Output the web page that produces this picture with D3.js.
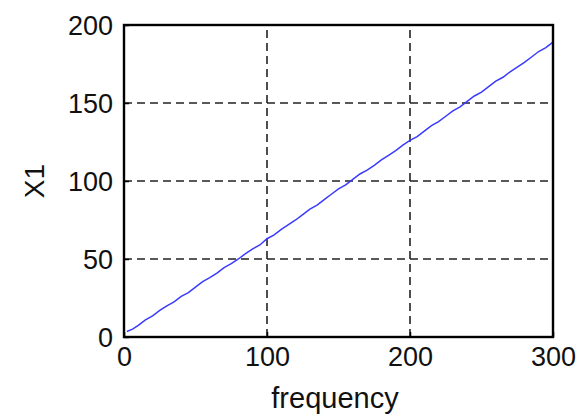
<!DOCTYPE html>
<html><head><meta charset="utf-8">
<script src="https://cdn.jsdelivr.net/npm/d3@7"></script>
<style>body{margin:0;background:#fff}svg{display:block}</style>
</head><body>
<script>
const freq = [2,6,10,15,20,25,30,35,40,45,50,55,60,65,70,75,80,85,90,95,100,105,110,115,120,125,130,135,140,145,150,155,160,165,170,175,180,185,190,195,200,205,210,215,220,225,230,235,240,245,250,255,260,265,270,275,280,285,290,295,300];
const x1 = [3.5,5,7.5,11,13.5,17,20,22.5,26,28.5,32,35.5,38,41,44.5,47,50,53.5,56.5,59,63,65.5,69,72,75,78.5,82,84.5,88,91.5,95,97.5,101,104.5,107,110,113.5,116.5,119.5,123,126,128.5,132,135.5,138,141.5,145,147.5,151,154.5,157,160.5,164,166.5,170,173,176,179.5,183,185.5,189];
const xTicks = [0,100,200,300];
const yTicks = [0,50,100,150,200];

const W=585,H=416, L=124,R=553,T=25,B=337;
const svg=d3.select("body").append("svg").attr("width",W).attr("height",H);
const x=d3.scaleLinear().domain([0,300]).range([L,R]);
const y=d3.scaleLinear().domain([0,200]).range([B,T]);
const FF="Liberation Sans, Arial, sans-serif", fs="27px";

// grid
svg.append("g").selectAll("line").data(xTicks.slice(1,-1)).join("line")
  .attr("x1",d=>x(d)).attr("x2",d=>x(d)).attr("y1",B).attr("y2",T)
  .attr("stroke","#222").attr("stroke-width",1.6).attr("stroke-dasharray","8,5");
svg.append("g").selectAll("line").data(yTicks.slice(1,-1)).join("line")
  .attr("y1",d=>y(d)).attr("y2",d=>y(d)).attr("x1",L).attr("x2",R)
  .attr("stroke","#222").attr("stroke-width",1.6).attr("stroke-dasharray","8,5");

// line
svg.append("path").datum(freq.map((f,i)=>[f,x1[i]]))
  .attr("fill","none").attr("stroke","#3a3aff").attr("stroke-width",1.5)
  .attr("d",d3.line().x(d=>x(d[0])).y(d=>y(d[1])));

// axes
const ax=svg.append("g").attr("transform",`translate(0,${B})`)
  .call(d3.axisBottom(x).tickValues(xTicks).tickSize(-5).tickPadding(10).tickFormat(d3.format("d")));
const ay=svg.append("g").attr("transform",`translate(${L},0)`)
  .call(d3.axisLeft(y).tickValues(yTicks).tickSize(-5).tickPadding(11).tickFormat(d3.format("d")));
[ax,ay].forEach(g=>{
  g.select(".domain").remove();
  g.selectAll("line").attr("stroke","#000").attr("stroke-width",1.5);
  g.selectAll("text").attr("font-family",FF).attr("font-size",fs).attr("fill","#111");
});
ay.selectAll("text").attr("dy","0.36em");

// frame
svg.append("rect").attr("x",L).attr("y",T).attr("width",R-L).attr("height",B-T)
  .attr("fill","none").attr("stroke","#000").attr("stroke-width",2.4);

svg.append("text").attr("x",335).attr("y",408).attr("text-anchor","middle")
  .attr("font-family",FF).attr("font-size","29px").attr("fill","#111").text("frequency");
svg.append("text").attr("transform",`translate(44,${(T+B)/2}) rotate(-90)`).attr("text-anchor","middle")
  .attr("font-family",FF).attr("font-size","28px").attr("fill","#111").text("X1");
</script>
</body></html>
